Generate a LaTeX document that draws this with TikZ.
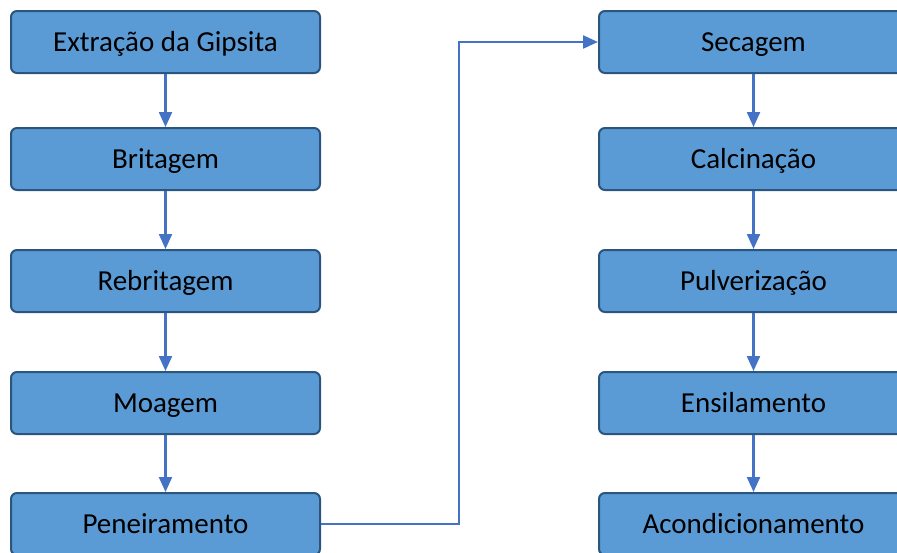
\documentclass[tikz,border=0pt]{standalone}
\usepackage{fontspec}
\setmainfont{Carlito}
\usetikzlibrary{arrows.meta}
\definecolor{boxfill}{HTML}{5B9BD5}
\definecolor{boxline}{HTML}{2B557F}
\definecolor{flowline}{HTML}{4472C4}
\tikzset{
	etapa/.style={draw=boxline, fill=boxfill, line width=2pt, rounded corners=6pt,
		minimum width=309pt, minimum height=62pt, inner sep=0pt,
		text height=25pt, text depth=5.4pt, font=\fontsize{29}{34}\selectfont},
	fluxo/.style={draw=flowline, line width=2.2pt, -{Triangle[length=15pt,width=13pt]}}
}
\begin{document}
\begin{tikzpicture}[x=1pt, y=-1pt]
			%%%%% START %%%%%
			\useasboundingbox (0, 0) rectangle (897, 552);
			
			\node[etapa] (extracao) at (165.5, 42) {Extração da Gipsita};
			\node[etapa] (britagem) at (165.5, 159) {Britagem};
			\node[etapa] (rebritagem) at (165.5, 281) {Rebritagem};
			\node[etapa] (moagem) at (165.5, 403) {Moagem};
			\node[etapa] (peneiramento) at (165.5, 524) {Peneiramento};
			
			\node[etapa] (secagem) at (753.5, 42) {Secagem};
			\node[etapa] (calcinacao) at (753.5, 159) {Calcinação};
			\node[etapa] (pulverizacao) at (753.5, 281) {Pulverização};
			\node[etapa] (ensilamento) at (753.5, 403) {Ensilamento};
			\node[etapa] (acondicionamento) at (753.5, 524) {Acondicionamento};
			
			\draw[fluxo] (extracao) -- (britagem);
			\draw[fluxo] (britagem) -- (rebritagem);
			\draw[fluxo] (rebritagem) -- (moagem);
			\draw[fluxo] (moagem) -- (peneiramento);
			
			\draw[fluxo] (peneiramento.east) -- ++(138, 0) |- (secagem.west);
			
			\draw[fluxo] (secagem) -- (calcinacao);
			\draw[fluxo] (calcinacao) -- (pulverizacao);
			\draw[fluxo] (pulverizacao) -- (ensilamento);
			\draw[fluxo] (ensilamento) -- (acondicionamento);
			%%%%% END %%%%%
\end{tikzpicture}
\end{document}
